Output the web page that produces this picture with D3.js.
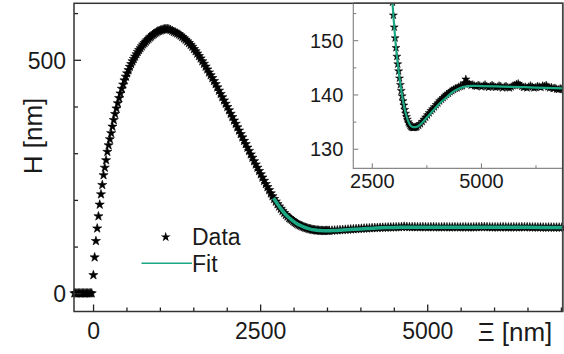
<!DOCTYPE html>
<html>
<head>
<meta charset="utf-8">
<script src="https://cdn.jsdelivr.net/npm/d3@7"></script>
<style>
  body { margin: 0; background: #fff; }
  svg { display: block; font-family: "Liberation Sans", Arial, sans-serif; }
</style>
</head>
<body>
<svg id="chart" width="564" height="354"></svg>
<script>
// measured profile, [xi (nm), H (nm)]
const flatPoints = [[-280,0],[-260,0],[-240,0],[-220,0],[-200,0],[-180,0],[-160,0],[-140,0],[-120,0],[-100,0],[-80,0],[-60,0],[-40,0],[-20,0]];

const risePoints = [[5,39],[24,77],[43,112],[62,139],[81,165],[100,190],[119,212],[138,232],[157,253],[176,269],
  [195,285],[214,303],[233,317],[252,330],[271,343],[290,357],[310,371],[330,384],[350,396],[370,407],
  [390,418],[410,428],[430,438],[450,447],[470,456],[490,464],[510,471],[530,478],[550,485],[570,491],
  [590,497],[610,502],[630,507],[650,512],[670,517],[690,521],[710,525],[730,529],[750,533],[770,536],
  [790,539],[810,542],[830,545],[850,548],[870,550],[890,553],[910,555],[930,557],[950,559],[970,561],
  [990,562],[1010,563],[1030,564],[1050,565],[1070,565.5],[1090,566],[1110,566]];

const fallPoints = [[1135,565.5],[1160,564],[1185,562],[1210,560],[1235,558.5],[1260,556.5],[1285,554.5],[1310,552],
  [1335,549],[1360,546],[1385,543],[1410,539.5],[1435,536],[1460,532],[1485,528],[1510,523],[1535,518.5],
  [1560,513.5],[1585,508],[1610,503],[1635,497],[1660,491.5],[1685,485.5],[1710,479.5],[1735,473],[1760,467],
  [1785,461],[1810,454.5],[1835,448],[1860,441],[1885,434],[1910,427],[1935,420],[1960,413],[1985,406],
  [2010,399],[2035,392],[2060,384.5],[2085,377.5],[2110,370],[2135,363],[2160,355.5],[2185,348.5],[2210,341],
  [2235,334],[2260,326.5],[2285,319.5],[2310,312],[2335,305],[2360,297.5],[2385,290.5],[2410,283],[2435,276],
  [2460,269],[2485,262],[2510,255],[2535,248],[2560,241],[2585,234],[2610,227.5],[2635,221],[2660,214],
  [2685,208],[2710,202],[2735,196.5],[2760,191],[2785,186],[2810,181],[2835,176.5],[2860,172],[2885,168],
  [2910,164.5],[2935,161]];

const dipPoints = [[2955,159.2],[2975,157.0],[2995,154.6],[3015,152.4],[3035,150.4],[3055,148.6],[3075,147.0],
  [3095,145.6],[3115,144.3],[3135,143.0],[3155,141.8],[3175,140.7],[3195,139.7],[3215,138.8],[3235,138.0],
  [3255,137.2],[3275,136.5],[3295,135.9],[3315,135.4],[3335,134.9],[3355,134.6],[3375,134.3],[3395,134.1],
  [3415,134.0],[3435,133.9],[3455,133.9],[3475,133.9],[3495,134.0],[3515,134.0],[3535,134.1]];

const plateauPoints = [[3575,134.3],[3615,134.6],[3655,135.0],[3695,135.4],[3735,135.8],[3775,136.2],[3815,136.6],
  [3855,137.0],[3895,137.3],[3935,137.7],[3975,138.1],[4015,138.4],[4055,138.8],[4095,139.1],[4135,139.4],
  [4175,139.7],[4215,140.0],[4255,140.2],[4295,140.5],[4335,140.7],[4375,140.9],[4415,141.1],[4455,141.2],
  [4495,141.4],[4535,141.5],[4575,141.6],[4615,142.1],[4655,142.8],[4695,142.2],[4735,141.9],[4775,141.7],
  [4815,141.8],[4855,141.6],[4895,141.5],[4935,141.7],[4975,141.6],[5015,141.4],[5055,141.6],[5095,141.8],
  [5135,141.5],[5175,141.3],[5215,141.5],[5255,141.7],[5295,141.5],[5335,141.3],[5375,141.4],[5415,141.6],
  [5455,141.5],[5495,141.2],[5535,141.4],[5575,141.5],[5615,141.3],[5655,141.2],[5695,141.4],[5735,141.6],
  [5775,141.7],[5815,141.9],[5855,142.0],[5895,141.7],[5935,141.5],[5975,141.3],[6015,141.4],[6055,141.2],
  [6095,141.4],[6135,141.6],[6175,141.4],[6215,141.2],[6255,141.3],[6295,141.5],[6335,141.4],[6375,141.3],
  [6415,141.6],[6455,141.5],[6495,141.7],[6535,141.4],[6575,141.2],[6615,141.3],[6655,141.1],[6695,141.2],
  [6735,141.0],[6775,140.9],[6815,141.1],[6855,141.0],[6895,140.9],[6935,141.0],[6975,140.9],[7015,141.0]];

const fitPoints = [[2700,204],[2750,193.5],[2800,183],[2850,174],[2900,166],[2950,159.8],[3000,154],[3050,149.1],
  [3100,145.3],[3150,142.2],[3200,139.6],[3250,137.5],[3300,135.9],[3350,134.8],[3400,134.2],[3450,134.0],
  [3500,134.0],[3550,134.1],[3600,134.4],[3700,135.2],[3800,136.1],[3900,137.0],[4000,137.9],[4100,138.7],
  [4200,139.4],[4300,140.1],[4400,140.7],[4500,141.1],[4600,141.4],[4700,141.55],[4800,141.6],[5000,141.55],
  [5500,141.45],[6000,141.35],[6500,141.2],[7027,141.1]];

const mainXMajor = [0, 2500, 5000];
const mainXMinor = [500, 1000, 1500, 2000, 3000, 3500, 4000, 4500, 5500, 6000, 6500, 7000];
const mainYMajor = [0, 500];
const mainYMinor = [100, 200, 300, 400, 600];
const insetXMajor = [2500, 5000];
const insetXMinor = [3750, 6250];
const insetYMajor = [130, 140, 150];
const insetYMinor = [135, 145, 155];

const allData = [].concat(flatPoints, risePoints, fallPoints, dipPoints, plateauPoints);

const fitColor = "#1ba783";
const svg = d3.select("#chart");

// main panel
const L = 74, R = 562.7, T = 3.3, B = 311.5;
const x = d3.scaleLinear().domain([-285, 7027]).range([L, R]);
const y = d3.scaleLinear().domain([-39, 621]).range([B, T]);

const starMain = d3.symbol(d3.symbolStar, 26)();
const mainG = svg.append("g");
mainG.selectAll("path.pt")
  .data(allData)
  .join("path")
  .attr("class", "pt")
  .attr("d", starMain)
  .attr("transform", d => `translate(${x(d[0])},${y(d[1])})`)
  .attr("fill", "#000")
  .attr("stroke", "#000")
  .attr("stroke-width", 0.6);

const fitLineMain = d3.line().x(d => x(d[0])).y(d => y(d[1])).curve(d3.curveMonotoneX);
mainG.append("path")
  .datum(fitPoints)
  .attr("d", fitLineMain)
  .attr("fill", "none")
  .attr("stroke", fitColor)
  .attr("stroke-width", 3.5);

// axes of main panel
function addAxis(g, axis) {
  g.call(axis);
  g.select(".domain").remove();
  g.selectAll(".tick line").attr("stroke", "#222").attr("stroke-width", 1.3);
  return g;
}

addAxis(svg.append("g").attr("transform", `translate(0,${B})`),
  d3.axisBottom(x).tickValues(mainXMinor).tickSizeInner(-4).tickFormat(""));
addAxis(svg.append("g").attr("transform", `translate(0,${B})`),
  d3.axisBottom(x).tickValues(mainXMajor).tickSizeInner(-7).tickPadding(10).tickFormat(d3.format("d")))
  .selectAll("text").attr("font-size", 23).attr("fill", "#1a1a1a")
  .attr("y", 27).attr("dy", 0);

addAxis(svg.append("g").attr("transform", `translate(${L},0)`),
  d3.axisLeft(y).tickValues(mainYMinor).tickSizeInner(-4).tickFormat(""));
addAxis(svg.append("g").attr("transform", `translate(${L},0)`),
  d3.axisLeft(y).tickValues(mainYMajor).tickSizeInner(-7).tickPadding(8).tickFormat(d3.format("d")))
  .selectAll("text").attr("font-size", 23).attr("fill", "#1a1a1a").attr("dy", "0.36em");

svg.append("rect")
  .attr("x", L).attr("y", T).attr("width", R - L).attr("height", B - T)
  .attr("fill", "none").attr("stroke", "#333").attr("stroke-width", 1.5);

// legend
svg.append("path")
  .attr("d", d3.symbol(d3.symbolStar, 30)())
  .attr("transform", "translate(165.7,237)");
svg.append("text").attr("x", 192).attr("y", 245).attr("font-size", 23).attr("fill", "#1a1a1a").text("Data");
svg.append("line").attr("x1", 141.5).attr("x2", 192).attr("y1", 263.3).attr("y2", 263.3)
  .attr("stroke", fitColor).attr("stroke-width", 1.6);
svg.append("text").attr("x", 192).attr("y", 272).attr("font-size", 23).attr("fill", "#1a1a1a").text("Fit");

// axis titles
svg.append("text")
  .attr("transform", "translate(42,136) rotate(-90)")
  .attr("text-anchor", "middle").attr("font-size", 26).attr("fill", "#1a1a1a")
  .text("H [nm]");
svg.append("text")
  .attr("x", 515).attr("y", 341)
  .attr("text-anchor", "middle").attr("font-size", 26).attr("fill", "#1a1a1a")
  .text("\u039E [nm]");

// inset
const iL = 353.3, iR = 562.7, iT = 3.3, iB = 168.3;
const xi = d3.scaleLinear().domain([2077, 6873]).range([iL, iR]);
const yi = d3.scaleLinear().domain([126.4, 156.8]).range([iB, iT]);

svg.append("defs").append("clipPath").attr("id", "insetClip")
  .append("rect").attr("x", iL).attr("y", iT).attr("width", iR - iL).attr("height", iB - iT);

svg.append("rect")
  .attr("x", iL).attr("y", iT).attr("width", iR - iL).attr("height", iB - iT)
  .attr("fill", "#fff");

const insetG = svg.append("g").attr("clip-path", "url(#insetClip)");
const starInset = d3.symbol(d3.symbolStar, 20)();
insetG.selectAll("path.pt")
  .data(allData.filter(d => d[0] > 2800))
  .join("path")
  .attr("class", "pt")
  .attr("d", starInset)
  .attr("transform", d => `translate(${xi(d[0])},${yi(d[1])})`)
  .attr("fill", "#000")
  .attr("stroke", "#000")
  .attr("stroke-width", 0.5);

const fitLineInset = d3.line().x(d => xi(d[0])).y(d => yi(d[1])).curve(d3.curveMonotoneX);
insetG.append("path")
  .datum(fitPoints)
  .attr("d", fitLineInset)
  .attr("fill", "none")
  .attr("stroke", fitColor)
  .attr("stroke-width", 2.2);

function addInsetAxis(g, axis) {
  g.call(axis);
  g.select(".domain").remove();
  g.selectAll(".tick line").attr("stroke", "#777").attr("stroke-width", 1);
  return g;
}
addInsetAxis(svg.append("g").attr("transform", `translate(0,${iB})`),
  d3.axisBottom(xi).tickValues(insetXMinor).tickSizeInner(-3).tickFormat(""));
addInsetAxis(svg.append("g").attr("transform", `translate(0,${iB})`),
  d3.axisBottom(xi).tickValues(insetXMajor).tickSizeInner(-5).tickFormat(d3.format("d")))
  .selectAll("text").attr("font-size", 20).attr("fill", "#1a1a1a").attr("y", 20).attr("dy", 0);
addInsetAxis(svg.append("g").attr("transform", `translate(${iL},0)`),
  d3.axisLeft(yi).tickValues(insetYMinor).tickSizeInner(-3).tickFormat(""));
addInsetAxis(svg.append("g").attr("transform", `translate(${iL},0)`),
  d3.axisLeft(yi).tickValues(insetYMajor).tickSizeInner(-5).tickPadding(10).tickFormat(d3.format("d")))
  .selectAll("text").attr("font-size", 20).attr("fill", "#1a1a1a").attr("dy", "0.36em");

svg.append("path")
  .attr("d", `M${iL},${iT}V${iB}H${iR}`)
  .attr("fill", "none").attr("stroke", "#888").attr("stroke-width", 1.2);
svg.append("path")
  .attr("d", `M${iL},${iT}H${iR}V${B}`)
  .attr("fill", "none").attr("stroke", "#444").attr("stroke-width", 1.5);
</script>
</body>
</html>
